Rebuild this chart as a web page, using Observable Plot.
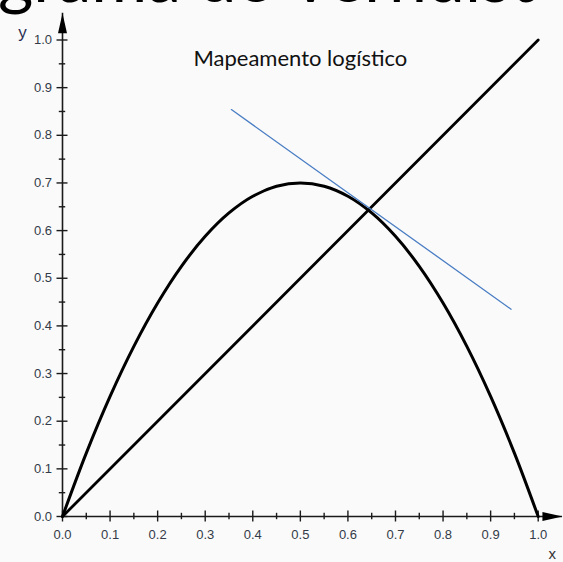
<!DOCTYPE html>
<html><head><meta charset="utf-8">
<script src="https://cdn.jsdelivr.net/npm/d3@7"></script>
<script src="https://cdn.jsdelivr.net/npm/@observablehq/plot@0.6"></script>
<style>
body{margin:0;background:#fafafa;}
#wrap{position:relative;width:563px;height:562px;overflow:hidden;}
#title{position:absolute;left:-2px;top:-58px;font-family:Lato,sans-serif;font-size:68px;line-height:68px;color:#000;white-space:nowrap;}
#chart{position:absolute;left:0;top:0;}
</style></head><body>
<div id="wrap"><div id="title">grama de Verhulst</div><div id="chart"></div></div>
<script>
// Logistic map curve
const curveX = [0, 0.05, 0.1, 0.15, 0.2, 0.25, 0.3, 0.35, 0.4, 0.45, 0.5, 0.55, 0.6, 0.65, 0.7, 0.75, 0.8, 0.85, 0.9, 0.95, 1.0];
const curveY = [0, 0.133, 0.252, 0.357, 0.448, 0.525, 0.588, 0.637, 0.672, 0.693, 0.700, 0.693, 0.672, 0.637, 0.588, 0.525, 0.448, 0.357, 0.252, 0.133, 0];
// Identity line y = x
const diagX = [0, 1];
const diagY = [0, 1];
// Blue tangent segment
const tangentX = [0.355, 0.943];
const tangentY = [0.854, 0.435];
// Axis ticks
const majorTicks = [0, 0.1, 0.2, 0.3, 0.4, 0.5, 0.6, 0.7, 0.8, 0.9, 1.0];
const tickLabels = ["0.0", "0.1", "0.2", "0.3", "0.4", "0.5", "0.6", "0.7", "0.8", "0.9", "1.0"];
const minorTicks = [0.05, 0.15, 0.25, 0.35, 0.45, 0.55, 0.65, 0.75, 0.85, 0.95];
const axisEndX = 1.051;
const axisEndY = 1.056;
const annotation = "Mapeamento logístico";
const xName = "x";
const yName = "y";

const curveData = curveX.map((x, i) => ({x, y: curveY[i]}));
const diagData = diagX.map((x, i) => ({x, y: diagY[i]}));
const tangentData = tangentX.map((x, i) => ({x, y: tangentY[i]}));

const arrowSym = {
  draw(ctx) {
    ctx.moveTo(0, 0);
    ctx.lineTo(-4.5, 20);
    ctx.lineTo(4.5, 20);
    ctx.closePath();
  }
};

const axisColor = "#1a1a1a";
const labelColor = "#333a48";
const font = "Liberation Sans, Arial, sans-serif";

const chart = Plot.plot({
  width: 563,
  height: 562,
  marginLeft: 62,
  marginRight: 25.3,
  marginTop: 39.5,
  marginBottom: 46,
  x: {domain: [0, 1], axis: null},
  y: {domain: [0, 1], axis: null},
  style: {background: "transparent", overflow: "visible", fontFamily: font},
  marks: [
    // axes lines
    Plot.ruleY([0], {x1: () => 0, x2: () => axisEndX, stroke: axisColor, strokeWidth: 1.6}),
    Plot.ruleX([0], {y1: () => 0, y2: () => axisEndY, stroke: axisColor, strokeWidth: 1.6}),
    // x ticks
    Plot.ruleX(majorTicks, {x: d => d, y1: () => 0, y2: () => 0, insetTop: -5.5, insetBottom: -5.5, stroke: axisColor, strokeWidth: 1.4}),
    Plot.ruleX(minorTicks, {x: d => d, y1: () => 0, y2: () => 0, insetTop: -3.2, insetBottom: -3.2, stroke: axisColor, strokeWidth: 1.4}),
    // y ticks
    Plot.ruleY(majorTicks, {y: d => d, x1: () => 0, x2: () => 0, insetLeft: -5.5, insetRight: -5.5, stroke: axisColor, strokeWidth: 1.4}),
    Plot.ruleY(minorTicks, {y: d => d, x1: () => 0, x2: () => 0, insetLeft: -3.2, insetRight: -3.2, stroke: axisColor, strokeWidth: 1.4}),
    // arrowheads
    Plot.dot([{x: axisEndX, y: 0}], {x: "x", y: "y", symbol: arrowSym, rotate: 90, fill: "#000", stroke: "none"}),
    Plot.dot([{x: 0, y: axisEndY}], {x: "x", y: "y", symbol: arrowSym, rotate: 0, fill: "#000", stroke: "none"}),
    // tick labels
    Plot.text(majorTicks, {x: d => d, y: () => 0, text: (d, i) => tickLabels[i], dy: 18, fill: labelColor, fontSize: 13, fontFamily: font}),
    Plot.text(majorTicks, {x: () => 0, y: d => d, text: (d, i) => tickLabels[i], dx: -10.5, textAnchor: "end", fill: labelColor, fontSize: 13, fontFamily: font}),
    // axis names
    Plot.text([yName], {text: d => d, frameAnchor: "top-left", textAnchor: "middle", lineAnchor: "middle", dx: -40, dy: -7, fill: "#2a2f55", fontSize: 17, fontFamily: font}),
    Plot.text([xName], {text: d => d, frameAnchor: "bottom-right", textAnchor: "middle", lineAnchor: "middle", dx: 14, dy: 38, fill: "#333", fontSize: 15, fontFamily: font}),
    // annotation
    Plot.text([annotation], {text: d => d, frameAnchor: "top", dy: 10, fill: "#111", fontSize: 22, fontFamily: "Lato, sans-serif"}),
    // data
    Plot.line(diagData, {x: "x", y: "y", stroke: "#000", strokeWidth: 2.8}),
    Plot.line(curveData, {x: "x", y: "y", curve: "catmull-rom", stroke: "#000", strokeWidth: 3}),
    Plot.line(tangentData, {x: "x", y: "y", stroke: "#4a7ec4", strokeWidth: 1.3})
  ]
});
document.getElementById("chart").appendChild(chart);
</script>
</body></html>
